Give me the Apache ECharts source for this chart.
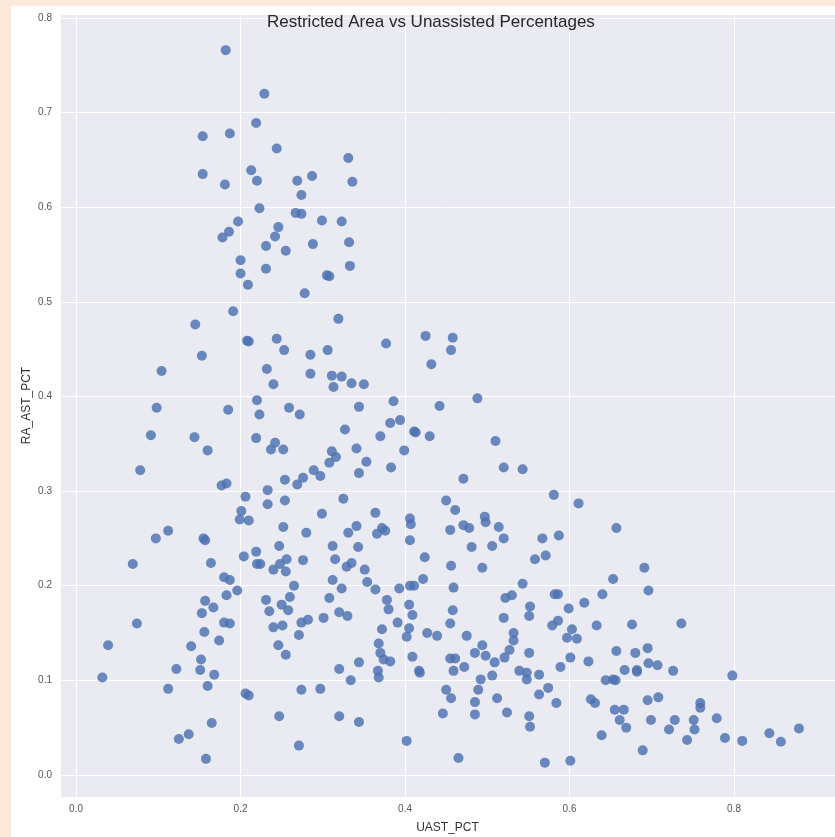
<!DOCTYPE html>
<html>
<head>
<meta charset="utf-8">
<script src="https://cdn.jsdelivr.net/npm/echarts@6/dist/echarts.min.js"></script>
<style>
html,body{margin:0;padding:0;width:835px;height:837px;background:#fde9dc;overflow:hidden;}
#fig{position:absolute;left:11px;top:6px;width:824px;height:831px;background:#ffffff;}
#chart{width:824px;height:831px;}
</style>
</head>
<body>
<div id="fig"><div id="chart"></div></div>
<script>
const titleText = "Restricted Area vs Unassisted Percentages";
const xName = "UAST_PCT";
const yName = "RA_AST_PCT";

const uastPct = [
0.182,0.229,0.219,0.154,0.187,0.244,0.154,0.181,0.213,0.220,0.269,0.287,0.274,0.223,0.267,0.274,0.299,0.323,0.197,0.186,0.178,0.246,0.242,0.231,0.255,0.288,0.200,0.200,0.231,0.305,0.308,0.331,0.336,0.332,0.333,
0.209,0.278,0.191,0.145,0.319,0.208,0.210,0.244,0.253,0.285,0.306,0.153,0.104,0.232,0.240,0.285,0.311,0.313,0.098,0.185,0.220,0.223,0.259,0.272,0.091,0.144,0.160,0.219,0.242,0.237,0.252,0.311,0.308,0.078,0.177,0.183,0.289,0.297,0.254,0.276,0.269,0.206,0.233,0.233,0.254,0.201,0.199,0.210,0.299,0.252,0.280,0.112,0.097,0.155,0.157,
0.323,0.316,0.325,
0.069,0.164,0.204,0.219,0.220,0.224,0.247,0.312,0.248,0.256,0.240,0.255,0.276,0.315,0.180,0.187,0.196,0.183,0.265,0.260,0.312,0.308,0.157,0.167,0.153,0.231,0.235,0.250,0.258,0.074,0.180,0.187,0.240,0.251,0.274,0.282,0.301,0.320,0.156,0.271,0.039,0.140,0.174,0.246,0.255,0.152,0.151,0.122,0.168,0.320,0.032,0.112,0.160,0.206,0.210,0.274,0.297,0.320,0.165,0.247,0.125,0.137,0.271,0.158,
0.377,0.425,0.458,0.456,0.432,0.335,0.350,0.344,0.386,0.442,0.488,0.327,0.370,0.382,0.394,0.411,0.413,0.430,0.510,0.341,0.353,0.344,0.399,0.383,0.471,0.520,0.543,0.581,0.611,0.364,0.450,0.461,0.406,0.407,0.341,0.331,0.372,0.366,0.376,0.471,0.478,0.497,0.498,0.514,0.520,0.567,0.587,0.455,0.406,0.481,0.506,0.343,
0.329,0.335,0.351,0.354,0.364,0.323,0.424,0.456,0.494,0.422,0.393,0.406,0.411,0.459,0.558,0.571,0.543,0.522,0.530,0.582,0.586,0.618,0.599,0.552,0.551,0.520,0.378,0.380,0.405,0.409,0.458,0.330,0.391,0.455,0.372,0.405,0.402,0.427,0.439,0.475,0.532,0.532,0.579,0.586,0.603,0.597,0.609,0.368,0.370,0.374,0.382,0.409,0.494,0.485,0.498,0.527,0.521,0.509,0.551,0.455,0.461,0.459,0.472,0.601,0.589,0.623,0.344,0.367,0.368,0.417,0.418,0.334,0.506,0.492,0.539,0.548,0.548,0.563,0.574,0.563,0.584,0.626,0.631,0.450,0.456,0.489,0.485,0.512,0.524,0.551,0.552,0.485,0.446,0.344,0.402,0.465,0.570,0.601,
0.657,0.691,0.653,0.696,0.640,0.633,0.676,0.736,0.657,0.680,0.695,0.696,0.707,0.667,0.682,0.682,0.726,0.644,0.653,0.656,0.798,0.695,0.708,0.759,0.759,0.655,0.666,0.661,0.669,0.699,0.728,0.751,0.752,0.721,0.779,0.639,0.743,0.789,0.810,0.843,0.857,0.879,0.689
];
const raAstPct = [
0.766,0.720,0.689,0.675,0.678,0.662,0.635,0.624,0.639,0.628,0.628,0.633,0.613,0.599,0.594,0.593,0.586,0.585,0.585,0.574,0.568,0.579,0.569,0.559,0.554,0.561,0.544,0.530,0.535,0.528,0.527,0.652,0.627,0.563,0.538,
0.518,0.509,0.490,0.476,0.482,0.459,0.458,0.461,0.449,0.444,0.449,0.443,0.427,0.429,0.413,0.424,0.422,0.410,0.388,0.386,0.396,0.381,0.388,0.381,0.359,0.357,0.343,0.356,0.351,0.344,0.344,0.342,0.330,0.322,0.306,0.308,0.322,0.316,0.312,0.314,0.307,0.294,0.301,0.286,0.290,0.279,0.270,0.269,0.276,0.262,0.256,0.258,0.250,0.250,0.248,
0.421,0.336,0.292,
0.223,0.224,0.231,0.236,0.223,0.223,0.242,0.242,0.223,0.228,0.217,0.215,0.227,0.228,0.209,0.206,0.195,0.190,0.200,0.188,0.206,0.187,0.184,0.177,0.171,0.185,0.173,0.180,0.174,0.160,0.161,0.160,0.156,0.158,0.161,0.164,0.166,0.172,0.151,0.148,0.137,0.136,0.142,0.137,0.127,0.122,0.111,0.112,0.106,0.112,0.103,0.091,0.094,0.086,0.084,0.090,0.091,0.062,0.055,0.062,0.038,0.043,0.031,0.017,
0.456,0.464,0.462,0.449,0.434,0.414,0.413,0.389,0.395,0.390,0.398,0.365,0.358,0.372,0.375,0.363,0.362,0.358,0.353,0.345,0.331,0.319,0.343,0.325,0.313,0.325,0.323,0.296,0.287,0.277,0.290,0.280,0.271,0.265,0.263,0.256,0.261,0.255,0.258,0.264,0.261,0.273,0.267,0.262,0.250,0.250,0.253,0.259,0.248,0.241,0.242,0.241,
0.220,0.224,0.217,0.204,0.196,0.197,0.230,0.221,0.219,0.207,0.197,0.200,0.200,0.198,0.228,0.232,0.202,0.187,0.190,0.191,0.191,0.182,0.176,0.178,0.168,0.166,0.185,0.175,0.180,0.169,0.174,0.168,0.161,0.160,0.154,0.155,0.146,0.150,0.147,0.147,0.150,0.142,0.158,0.163,0.154,0.145,0.144,0.139,0.129,0.122,0.120,0.125,0.137,0.129,0.126,0.132,0.124,0.119,0.129,0.123,0.123,0.110,0.114,0.124,0.114,0.120,0.119,0.110,0.103,0.110,0.108,0.100,0.105,0.101,0.110,0.108,0.101,0.106,0.092,0.085,0.076,0.080,0.076,0.090,0.081,0.090,0.077,0.081,0.066,0.062,0.051,0.064,0.065,0.056,0.036,0.018,0.013,0.015,
0.261,0.219,0.207,0.195,0.191,0.158,0.159,0.160,0.131,0.129,0.134,0.118,0.116,0.111,0.111,0.109,0.110,0.100,0.101,0.100,0.105,0.079,0.082,0.076,0.071,0.069,0.069,0.058,0.050,0.058,0.058,0.058,0.048,0.048,0.060,0.042,0.037,0.039,0.036,0.044,0.035,0.049,0.026
];

const xTickStep = 0.2;
const yTickStep = 0.1;

const points = uastPct.map((x, i) => [x, raAstPct[i]]);

const chart = echarts.init(document.getElementById('chart'), null, {renderer: 'canvas'});
const labelFont = "'Liberation Sans', Arial, sans-serif";
chart.setOption({
  animation: false,
  backgroundColor: 'transparent',
  graphic: [{
    type: 'text',
    left: 256,
    top: 8,
    style: {
      text: titleText,
      fill: '#262626',
      font: "17px 'Liberation Sans', Arial, sans-serif"
    },
    z: 100
  }],
  grid: {
    left: 49, top: 8, right: 0, bottom: 40,
    containLabel: false,
    outerBoundsMode: 'none',
    show: true, backgroundColor: '#eaeaf2', borderWidth: 0
  },
  xAxis: {
    type: 'value',
    min: -0.0195, max: 0.9228,
    splitNumber: 5,
    name: xName, nameLocation: 'middle', nameGap: 25,
    nameMoveOverlap: false,
    nameTextStyle: {color: '#333', fontSize: 12, fontFamily: labelFont},
    axisLine: {show: false}, axisTick: {show: false},
    axisLabel: {
      color: '#555', fontSize: 10, fontFamily: labelFont, margin: 7,
      showMinLabel: false, showMaxLabel: false,
      formatter: v => (Math.abs(v / xTickStep - Math.round(v / xTickStep)) < 1e-6) ? v.toFixed(1) : ''
    },
    splitLine: {show: true, lineStyle: {color: '#ffffff', width: 1}}
  },
  yAxis: {
    type: 'value',
    min: -0.0233, max: 0.8042,
    splitNumber: 8,
    name: yName, nameLocation: 'middle', nameGap: 27,
    nameMoveOverlap: false,
    nameTextStyle: {color: '#333', fontSize: 12, fontFamily: labelFont},
    axisLine: {show: false}, axisTick: {show: false},
    axisLabel: {
      color: '#555', fontSize: 10, fontFamily: labelFont, margin: 8,
      showMinLabel: false, showMaxLabel: false,
      formatter: v => (Math.abs(v / yTickStep - Math.round(v / yTickStep)) < 1e-6) ? v.toFixed(1) : ''
    },
    splitLine: {show: true, lineStyle: {color: '#ffffff', width: 1}}
  },
  series: [{
    type: 'scatter',
    data: points,
    symbol: 'circle',
    symbolSize: 10,
    itemStyle: {color: '#4c72b0', opacity: 0.82}
  }]
});
</script>
</body>
</html>
